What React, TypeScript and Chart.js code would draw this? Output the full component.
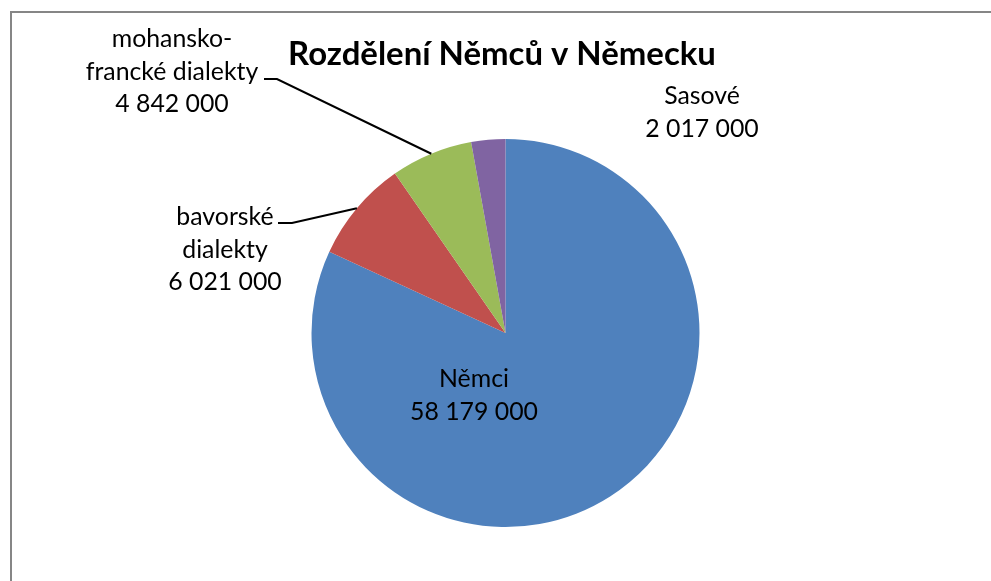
import React, { useEffect, useRef } from "react";
import { Chart, registerables } from "chart.js";

Chart.register(...registerables);

// ---- data ----
const categories = ["Němci", "bavorské dialekty", "mohansko-francké dialekty", "Sasové"];
const values = [58179000, 6021000, 4842000, 2017000];
const colors = ["#4F81BD", "#C0504D", "#9BBB59", "#8064A2"];
const labelLines = [["Němci"], ["bavorské", "dialekty"], ["mohansko-", "francké dialekty"], ["Sasové"]];
const chartTitle = "Rozdělení Němců v Německu";

// ---- layout (styles / positions of labels) ----
const FONT = "Lato, 'Open Sans', sans-serif";
const labelLayout = [
  { x: 474, baseline: 387, leader: null as null | number[] },
  { x: 225, baseline: 225, leader: [278, 292, 223] },
  { x: 172, baseline: 47, leader: [264, 277, 79] },
  { x: 702, baseline: 104, leader: null as null | number[] },
];
const LINE_H = 32.5;

function fmt(v: number): string {
  return String(v).replace(/\B(?=(\d{3})+(?!\d))/g, " ");
}

function fitSize(ctx: CanvasRenderingContext2D, text: string, target: number, weight: string) {
  ctx.font = `${weight} 100px ${FONT}`;
  const w = ctx.measureText(text).width;
  return (100 * target) / w;
}

const overlay = {
  id: "overlay",
  afterDraw(chart: any) {
    const ctx: CanvasRenderingContext2D = chart.ctx;
    ctx.save();
    // frame
    ctx.strokeStyle = "#868686";
    ctx.lineWidth = 2;
    ctx.beginPath();
    ctx.moveTo(11, 582);
    ctx.lineTo(11, 12);
    ctx.lineTo(992, 12);
    ctx.stroke();

    // title
    const tSize = fitSize(ctx, chartTitle, 428, "bold");
    ctx.font = `bold ${tSize}px ${FONT}`;
    ctx.fillStyle = "#000";
    ctx.textAlign = "center";
    ctx.textBaseline = "alphabetic";
    ctx.fillText(chartTitle, 502, 65);

    // labels
    const lSize =
      (fitSize(ctx, "francké dialekty", 167, "normal") + fitSize(ctx, "58 179 000", 132, "normal")) / 2;
    ctx.font = `normal ${lSize}px ${FONT}`;
    const meta = chart.getDatasetMeta(0);
    meta.data.forEach((arc: any, i: number) => {
      const lay = labelLayout[i];
      const lines = [...labelLines[i], fmt(values[i])];
      lines.forEach((ln, k) => {
        ctx.fillText(ln, lay.x, lay.baseline + k * LINE_H);
      });
      if (lay.leader) {
        const p = arc.getProps(["x", "y", "startAngle", "endAngle", "outerRadius"], true);
        const mid = (p.startAngle + p.endAngle) / 2;
        const ax = p.x + Math.cos(mid) * p.outerRadius;
        const ay = p.y + Math.sin(mid) * p.outerRadius;
        ctx.strokeStyle = "#000";
        ctx.lineWidth = 2;
        ctx.beginPath();
        ctx.moveTo(lay.leader[0], lay.leader[2]);
        ctx.lineTo(lay.leader[1], lay.leader[2]);
        ctx.lineTo(ax, ay);
        ctx.stroke();
      }
    });
    ctx.restore();
  },
};

export default function App() {
  const ref = useRef<HTMLCanvasElement | null>(null);
  useEffect(() => {
    document.body.style.overflow = "hidden";
    const c = ref.current!;
    const chart = new Chart(c, {
      type: "pie",
      data: {
        labels: categories,
        datasets: [
          {
            data: values,
            backgroundColor: colors,
            borderWidth: 0,
          },
        ],
      },
      options: {
        responsive: false,
        animation: false,
        devicePixelRatio: 1,
        layout: { padding: { top: 139, bottom: 54, left: 311.5, right: 291.5 } },
        plugins: {
          legend: { display: false },
          tooltip: { enabled: false },
          title: { display: false },
        },
      },
      plugins: [overlay],
    });
    return () => chart.destroy();
  }, []);
  return (
    <div style={{ position: "fixed", left: 0, top: 0, width: 991, height: 581, background: "#fff" }}>
      <canvas ref={ref} width={991} height={581} style={{ display: "block" }} />
    </div>
  );
}
